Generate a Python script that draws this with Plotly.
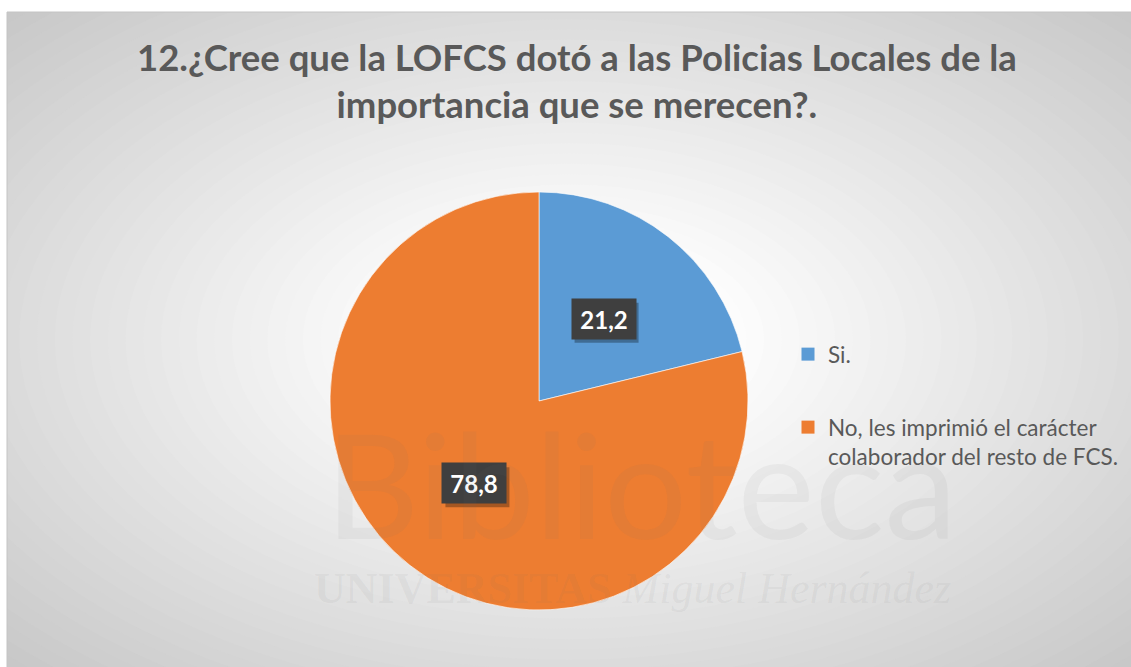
import math
import plotly.graph_objects as go

labels = ["Si.", "No, les imprimió el carácter<br>colaborador del resto de FCS."]
values = [21.2, 78.8]
value_text = ["21,2", "78,8"]
colors = ["#5B9BD5", "#ED7D31"]
title_text = "12.¿Cree que la LOFCS dotó a las Policias Locales de la<br>importancia que se merecen?."

W, H = 1131, 667
# pie geometry (pixels)
cx, cy, R = 539, 401, 209

fig = go.Figure()
fig.add_trace(go.Pie(
    labels=labels, values=values, sort=False, direction="clockwise", rotation=0,
    marker=dict(colors=colors, line=dict(color="rgba(255,255,255,0.6)", width=1)),
    textinfo="none", hoverinfo="label+value", showlegend=False,
    domain=dict(x=[(cx - R) / W, (cx + R) / W], y=[1 - (cy + R) / H, 1 - (cy - R) / H]),
))

# legend entries (dummy traces so the items can be spaced like the original)
for i, (lab, col) in enumerate(zip(labels, colors)):
    fig.add_trace(go.Scatter(
        x=[None], y=[None], mode="markers", name=lab,
        marker=dict(symbol="square", size=13, color=col),
        legend="legend" if i == 0 else "legend2", showlegend=True, hoverinfo="skip",
    ))

shapes = []
# radial gradient background of the chart area
x0, y0, x1, y1 = 7, 12, W, H
mx, my = (x0 + x1) / 2, (y0 + y1) / 2
hw, hh = (x1 - x0) / 2 * 1.42, (y1 - y0) / 2 * 1.42
shapes.append(dict(type="rect", xref="paper", yref="paper", x0=x0 / W, x1=x1 / W, y0=1 - y1 / H, y1=1 - y0 / H,
                   fillcolor="rgb(200,200,200)", line=dict(width=0), layer="below"))
N = 45
for k in range(N, 0, -1):
    t = k / N
    g = 255 if t < 0.18 else 255 - (255 - 200) * ((t - 0.18) / 0.82)
    g = int(round(g))
    shapes.append(dict(type="circle", xref="paper", yref="paper",
                       x0=(mx - t * hw) / W, x1=(mx + t * hw) / W,
                       y0=1 - (my + t * hh) / H, y1=1 - (my - t * hh) / H,
                       fillcolor=f"rgb({g},{g},{g})", line=dict(width=0), layer="below"))
# white margins outside chart area
shapes.append(dict(type="rect", xref="paper", yref="paper", x0=0, x1=1, y0=1 - y0 / H, y1=1.05,
                   fillcolor="white", line=dict(width=0), layer="below"))
shapes.append(dict(type="rect", xref="paper", yref="paper", x0=-0.05, x1=x0 / W, y0=-0.05, y1=1.05,
                   fillcolor="white", line=dict(width=0), layer="below"))
shapes.append(dict(type="rect", xref="paper", yref="paper", x0=x0 / W, x1=1.01, y0=-0.01, y1=1 - y0 / H,
                   fillcolor="rgba(0,0,0,0)", line=dict(width=1, color="#c4c4c4"), layer="below"))

# data labels at half radius of slice mid-angle
total = sum(values)
cum = 0
annotations = []
for v, t in zip(values, value_text):
    mid = (cum + v / 2) / total * 2 * math.pi
    cum += v
    px = cx + 0.5 * R * math.sin(mid)
    py = cy - 0.5 * R * math.cos(mid)
    ax, ay = px / W, 1 - py / H
    # drop shadow of the label box
    shapes.append(dict(type="rect", xref="paper", yref="paper", xsizemode="pixel", ysizemode="pixel",
                       xanchor=ax, yanchor=ay, x0=-32 + 3, x1=32 + 3, y0=-20 - 4, y1=20 - 4,
                       fillcolor="rgba(0,0,0,0.3)", line=dict(width=0), layer="above"))
    annotations.append(dict(x=ax, y=ay, xref="paper", yref="paper", text="<b>" + t + "</b>", showarrow=False,
                            xanchor="center", yanchor="middle",
                            font=dict(family="Lato", size=24, color="white"),
                            bgcolor="#3f3f3f", width=58, height=34, borderpad=3))

# title
annotations.append(dict(x=577 / W, y=1 - 80 / H, xref="paper", yref="paper", text="<b>" + title_text + "</b>",
                        showarrow=False, xanchor="center", yanchor="middle",
                        font=dict(family="Lato", size=36.5, color="#595959")))

# faint watermark
annotations.append(dict(x=641 / W, y=1 - 482 / H, xref="paper", yref="paper", text="Biblioteca",
                        showarrow=False, xanchor="center", yanchor="middle",
                        font=dict(family="Lato", size=146, color="rgba(110,110,110,0.07)")))
annotations.append(dict(x=632 / W, y=1 - 588 / H, xref="paper", yref="paper",
                        text="<b>UNIVERSITAS</b> <i>Miguel Hernández</i>",
                        showarrow=False, xanchor="center", yanchor="middle",
                        font=dict(family="Liberation Serif", size=44, color="rgba(110,110,110,0.08)")))

legend_common = dict(font=dict(family="Lato", size=22.5, color="#595959"), bgcolor="rgba(0,0,0,0)",
                     itemclick=False, itemdoubleclick=False, valign="top", xanchor="left", yanchor="top")

fig.update_layout(
    width=W, height=H, margin=dict(l=0, r=0, t=0, b=0),
    paper_bgcolor="white", plot_bgcolor="rgba(0,0,0,0)",
    xaxis=dict(visible=False), yaxis=dict(visible=False),
    legend=dict(x=788 / W, y=1 - 333 / H, **legend_common),
    legend2=dict(x=788 / W, y=1 - 406 / H, **legend_common),
    annotations=annotations, shapes=shapes,
)

fig.write_html("out.html", config={"displayModeBar": False},
               post_script="document.body.style.margin='0';")
